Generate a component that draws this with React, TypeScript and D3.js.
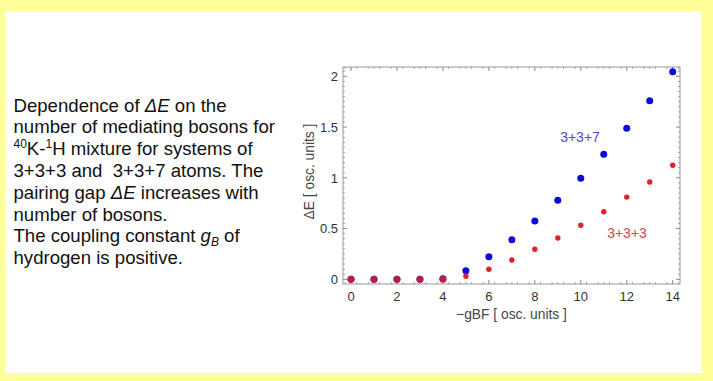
import React from "react";
import * as d3 from "d3";

const gbf = [0, 1, 2, 3, 4, 5, 6, 7, 8, 9, 10, 11, 12, 13, 14];
const gap337 = [0, 0, 0, 0, 0.005, 0.085, 0.223, 0.39, 0.574, 0.778, 0.995, 1.231, 1.488, 1.76, 2.045];
const gap333 = [0, 0, 0, 0, 0, 0.03, 0.099, 0.19, 0.296, 0.407, 0.532, 0.666, 0.81, 0.959, 1.123];
const xTicks = [0, 2, 4, 6, 8, 10, 12, 14];
const yTicks = [0, 0.5, 1, 1.5, 2];
const yTickLabels = ["0", "0.5", "1", "1.5", "2"];

const W = 713, H = 381;
const frame = { l: 343, r: 680, t: 67, b: 284 };

export default function App() {
  const x = d3.scaleLinear().domain([0, 14]).range([351, 672.7]);
  const y = d3.scaleLinear().domain([0, 2]).range([279.3, 76.3]);
  const xMinor = d3.range(-0.25, 14.6, 0.5).filter((v) => x(v) > frame.l && x(v) < frame.r);
  const yMinor = d3.range(-0.05, 2.1, 0.1).filter((v) => y(v) > frame.t && y(v) < frame.b);
  const tickCol = "#888";
  const font = "Liberation Sans, Arial, sans-serif";
  const fs = 18.6;
  const sup = 12;
  const lines: React.ReactNode[] = [
    <>Dependence of <tspan fontStyle="italic">ΔE</tspan> on the</>,
    <>number of mediating bosons for</>,
    <><tspan fontSize={sup} dy="-7">40</tspan><tspan dy="7">K-</tspan><tspan fontSize={sup} dy="-7">1</tspan><tspan dy="7">H mixture for systems of</tspan></>,
    <>3+3+3 and  3+3+7 atoms. The</>,
    <>pairing gap <tspan fontStyle="italic">ΔE</tspan> increases with</>,
    <>number of bosons.</>,
    <>The coupling constant <tspan fontStyle="italic">g</tspan><tspan fontStyle="italic" fontSize={sup} dy="4">B</tspan><tspan dy="-4"> of</tspan></>,
    <>hydrogen is positive.</>,
  ];
  return (
    <svg width={W} height={H} style={{ position: "absolute", left: 0, top: 0 }} fontFamily={font}>
      <rect x={0} y={0} width={W} height={H} fill="#ffff99" />
      <rect x={5} y={11} width={697} height={362} fill="#ffffff" />
      {lines.map((l, i) => (
        <text key={i} x={13.5} y={111.5 + i * 21.8} fontSize={fs} fill="#111" xmlSpace="preserve" style={{ whiteSpace: "pre" }}>
          {l}
        </text>
      ))}
      <rect x={frame.l} y={frame.t} width={frame.r - frame.l} height={frame.b - frame.t} fill="none" stroke="#999" strokeWidth={1} />
      {xTicks.map((v) => (
        <g key={"xt" + v}>
          <line x1={x(v)} x2={x(v)} y1={frame.b} y2={frame.b - 4} stroke={tickCol} />
          <line x1={x(v)} x2={x(v)} y1={frame.t} y2={frame.t + 4} stroke={tickCol} />
          <text x={x(v)} y={301} fontSize={13} textAnchor="middle" fill="#333">{v}</text>
        </g>
      ))}
      {d3.range(0, 15, 1).filter((v) => v % 2 === 1).concat(xMinor).map((v, i) => (
        <g key={"xm" + i}>
          <line x1={x(v)} x2={x(v)} y1={frame.b} y2={frame.b - 2} stroke={tickCol} strokeWidth={0.7} />
          <line x1={x(v)} x2={x(v)} y1={frame.t} y2={frame.t + 2} stroke={tickCol} strokeWidth={0.7} />
        </g>
      ))}
      {yTicks.map((v, i) => (
        <g key={"yt" + v}>
          <line x1={frame.l} x2={frame.l + 4} y1={y(v)} y2={y(v)} stroke={tickCol} />
          <line x1={frame.r} x2={frame.r - 4} y1={y(v)} y2={y(v)} stroke={tickCol} />
          <text x={338} y={y(v) + 4.7} fontSize={13} textAnchor="end" fill="#333">{yTickLabels[i]}</text>
        </g>
      ))}
      {d3.range(0.1, 2.05, 0.1).filter((v) => Math.abs(v * 2 - Math.round(v * 2)) > 0.01).concat(yMinor).map((v, i) => (
        <g key={"ym" + i}>
          <line x1={frame.l} x2={frame.l + 2} y1={y(v)} y2={y(v)} stroke={tickCol} strokeWidth={0.7} />
          <line x1={frame.r} x2={frame.r - 2} y1={y(v)} y2={y(v)} stroke={tickCol} strokeWidth={0.7} />
        </g>
      ))}
      <text x={511.5} y={318.5} fontSize={13.8} textAnchor="middle" fill="#444">−gBF [ osc. units ]</text>
      <text transform={`translate(314,171.5) rotate(-90)`} fontSize={13.8} textAnchor="middle" fill="#444">ΔE [ osc. units ]</text>
      {gbf.map((v, i) => (
        <circle key={"b" + i} cx={x(v)} cy={y(gap337[i])} r={3.5} fill="#0a0adc" />
      ))}
      {gbf.map((v, i) => (
        <circle key={"r" + i} cx={x(v)} cy={y(gap333[i])} r={i < 5 ? 3.5 : 2.7} fill="#e41e2a" fillOpacity={i < 5 ? 0.8 : 1} />
      ))}
      <text x={580} y={142} fontSize={14} textAnchor="middle" fill="#4a4ad6">3+3+7</text>
      <text x={627} y={237.5} fontSize={14} textAnchor="middle" fill="#e0404c">3+3+3</text>
    </svg>
  );
}
